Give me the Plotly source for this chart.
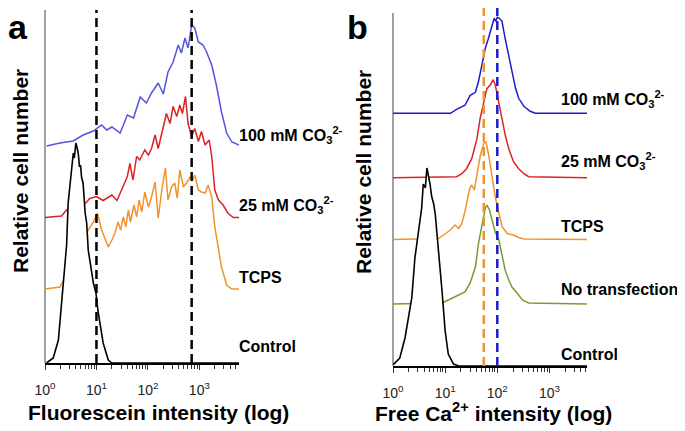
import numpy as np
import plotly.graph_objects as go

W, H = 685, 431
PAGE = 8  # the browser page adds an 8 px margin before the figure

# ---------------- Panel a : Fluorescein intensity (log10 of intensity) ----------------
a_blue_logx = [0.03, 0.29, 0.55, 0.74, 0.94, 1.10, 1.20, 1.30, 1.46, 1.60, 1.72, 1.85, 1.97, 2.07, 2.20,
               2.30, 2.39, 2.49, 2.59, 2.65, 2.72, 2.78, 2.85, 2.91, 2.98, 3.07, 3.14, 3.24, 3.33, 3.43,
               3.53, 3.63, 3.77]
a_blue_cnt = [0, 3, 5, 11, 15, 21, 16, 19, 13, 31, 28, 49, 43, 53, 63,
              52, 74, 84, 101, 93, 108, 98, 121, 118, 104, 101, 94, 81, 61, 34,
              13, 4, 1]

a_red_logx = [0.00, 0.32, 0.42, 0.78, 0.87, 1.00, 1.13, 1.30, 1.40, 1.52, 1.60, 1.65, 1.71, 1.78, 1.84,
              1.94, 2.01, 2.07, 2.14, 2.20, 2.30, 2.36, 2.43, 2.49, 2.56, 2.62, 2.67, 2.73, 2.78, 2.85,
              2.91, 2.98, 3.04, 3.11, 3.19, 3.24, 3.30, 3.37, 3.46, 3.56, 3.66, 3.77]
a_red_cnt = [0, 1.5, 7.5, 14, 19, 21, 17, 22.5, 17, 31, 41, 54, 37.5, 61, 57.5,
             67.5, 62.5, 69, 82.5, 69, 91, 104, 94, 111, 101, 112.5, 104, 121, 94, 81,
             89, 76, 86, 72.5, 77.5, 61, 27.5, 17.5, 12.5, 4, 0, 0]

a_orange_logx = [0.00, 0.29, 0.58, 0.84, 0.94, 1.02, 1.10, 1.23, 1.30, 1.36, 1.42, 1.47, 1.52, 1.57, 1.62,
                 1.66, 1.73, 1.78, 1.83, 1.88, 1.94, 2.01, 2.07, 2.14, 2.20, 2.27, 2.34, 2.39, 2.46, 2.52,
                 2.57, 2.62, 2.69, 2.75, 2.82, 2.87, 2.91, 2.98, 3.04, 3.11, 3.17, 3.24, 3.30, 3.37, 3.43,
                 3.53, 3.63, 3.77]
a_orange_cnt = [0, 2, 30, 59, 67, 76, 59, 42, 49, 56, 67, 59, 72, 62, 79,
                67, 84, 72, 89, 77, 97, 82, 92, 107, 71, 99, 121, 89, 102, 106,
                91, 119, 102, 106, 112, 109, 114, 99, 97, 96, 104, 92, 62, 39, 22,
                4, 0, 0]

a_black_logx = [0.03, 0.16, 0.26, 0.32, 0.39, 0.42, 0.45, 0.49, 0.52, 0.55, 0.57, 0.60, 0.63, 0.65, 0.67,
                0.69, 0.71, 0.74, 0.78, 0.81, 0.84, 0.87, 0.94, 0.99, 1.03, 1.13, 1.23, 1.30, 3.77]
a_black_cnt = [0, 5, 23, 60, 98, 118, 160, 180, 196, 210, 205, 220, 214, 208, 196,
               198, 186, 180, 150, 140, 113, 103, 80, 70, 52, 20, 3, 0, 0]

a_labels = ["100 mM CO<sub>3</sub><sup>2-</sup>", "25 mM CO<sub>3</sub><sup>2-</sup>", "TCPS", "Control"]
a_offsets = [217, 145.5, 74, 0]
a_gates = [10, 708]

# ---------------- Panel b : Free Ca2+ intensity ----------------
b_blue_logx = [0.00, 1.10, 1.22, 1.38, 1.48, 1.58, 1.64, 1.71, 1.77, 1.83, 1.90, 1.94, 1.97, 2.00, 2.04,
               2.09, 2.15, 2.22, 2.28, 2.35, 2.41, 2.51, 2.63, 2.73, 3.72]
b_blue_cnt = [0, 0, 4, 8, 18, 21, 32, 48, 65, 75, 87, 95, 92, 96, 95,
              92, 75, 58, 42, 25, 15, 7, 2, 0, 0]

b_red_logx = [0.00, 1.22, 1.32, 1.41, 1.51, 1.61, 1.67, 1.74, 1.80, 1.87, 1.92, 1.96, 2.03, 2.09, 2.15,
              2.22, 2.31, 2.41, 2.51, 2.60, 3.72]
b_red_cnt = [0, 1, 4, 9, 19, 39, 59, 76, 89, 93, 98, 93, 76, 59, 43,
             29, 16, 9, 4, 1, 0]

b_orange_logx = [0.00, 0.87, 0.97, 1.10, 1.19, 1.26, 1.32, 1.38, 1.47, 1.51, 1.56, 1.61, 1.67, 1.74, 1.78,
                 1.83, 1.90, 1.96, 2.03, 2.09, 2.19, 2.31, 2.41, 2.51, 3.72]
b_orange_cnt = [0, 1, 4.5, 9.5, 14.5, 11, 16, 28, 51, 54.5, 49.5, 66, 83, 96, 98,
                86, 63, 43, 26, 13, 6, 4.5, 2, 0.5, 0]

b_green_logx = [0.00, 0.94, 1.06, 1.22, 1.38, 1.48, 1.58, 1.64, 1.71, 1.77, 1.80, 1.85, 1.90, 1.96, 2.03,
                2.09, 2.15, 2.22, 2.28, 2.38, 2.48, 2.60, 3.72]
b_green_cnt = [0, 1, 4, 8, 12, 21, 37, 61, 81, 96, 99, 94, 84, 72, 64,
               47, 34, 24, 17, 11, 4, 1, 0]

b_black_logx = [0.00, 0.13, 0.23, 0.29, 0.36, 0.42, 0.49, 0.55, 0.58, 0.62, 0.65, 0.68, 0.71, 0.74, 0.78,
                0.81, 0.84, 0.87, 0.94, 1.00, 1.06, 1.16, 1.26, 3.72]
b_black_cnt = [1, 8, 28, 48, 68, 108, 138, 158, 182, 178, 198, 190, 182, 170, 162,
               152, 135, 115, 75, 35, 12, 2, 0, 0]

b_labels = ["100 mM CO<sub>3</sub><sup>2-</sup>", "25 mM CO<sub>3</sub><sup>2-</sup>", "TCPS",
            "No transfection", "Control"]
b_offsets = [252.7, 188.3, 126.5, 62, 0]
b_gates = [55, 100]

tick_vals = [1, 10, 100, 1000]
tick_text = ["10<sup>0</sup>", "10<sup>1</sup>", "10<sup>2</sup>", "10<sup>3</sup>"]

FONT = "Liberation Sans, Arial, sans-serif"
BLUE_A, BLUE_B = "#5454e0", "#1c1cd0"
RED, ORANGE, GREEN, BLACK = "#dc2323", "#f1932c", "#7c9a30", "#000000"


def px(p):          # page x pixel -> paper
    return (p - PAGE) / W


def py(p):          # page y pixel -> paper
    return 1 - (p - PAGE) / H


fig = go.Figure()


def curve(logx, cnt, off, color, xa, ya, width=1.5):
    """Overlay histogram: white (opaque) body so front curves hide back ones, then its outline."""
    xs = np.power(10.0, np.array(logx))
    ys = np.array(cnt, dtype=float) + off
    fig.add_trace(go.Scatter(
        x=np.concatenate([xs, [xs[-1], xs[0]]]), y=np.concatenate([ys, [off, off]]),
        mode="lines", fill="toself", fillcolor="white", line=dict(width=0, color="white"),
        xaxis=xa, yaxis=ya, hoverinfo="skip", showlegend=False))
    fig.add_trace(go.Scatter(
        x=xs, y=ys, mode="lines", line=dict(color=color, width=width),
        xaxis=xa, yaxis=ya, hoverinfo="skip", showlegend=False))


def gate(xv, top, color, xa, ya):
    fig.add_trace(go.Scatter(
        x=[xv, xv], y=[0, top], mode="lines",
        line=dict(color=color, width=2.5, dash="9px,5px"),
        xaxis=xa, yaxis=ya, hoverinfo="skip", showlegend=False))


# panel a (back to front)
A_BOT, A_TOPPX = 363, 10
A_TOP = A_BOT - A_TOPPX
curve(a_blue_logx, a_blue_cnt, a_offsets[0], BLUE_A, "x", "y")
curve(a_red_logx, a_red_cnt, a_offsets[1], RED, "x", "y")
curve(a_orange_logx, a_orange_cnt, a_offsets[2], ORANGE, "x", "y")
curve(a_black_logx, a_black_cnt, a_offsets[3], BLACK, "x", "y", 1.6)
gate(a_gates[0], A_TOP, BLACK, "x", "y")
gate(a_gates[1], A_TOP, BLACK, "x", "y")

# panel b (back to front)
B_BOT, B_TOPPX = 366, PAGE
B_TOP = B_BOT - B_TOPPX
curve(b_blue_logx, b_blue_cnt, b_offsets[0], BLUE_B, "x2", "y2")
curve(b_red_logx, b_red_cnt, b_offsets[1], RED, "x2", "y2")
curve(b_orange_logx, b_orange_cnt, b_offsets[2], ORANGE, "x2", "y2")
curve(b_green_logx, b_green_cnt, b_offsets[3], GREEN, "x2", "y2")
curve(b_black_logx, b_black_cnt, b_offsets[4], BLACK, "x2", "y2", 1.6)
gate(b_gates[0], B_TOP, ORANGE, "x2", "y2")
gate(b_gates[1], B_TOP, BLUE_B, "x2", "y2")

minor_vals = [m * 10 ** e for e in range(4) for m in range(2, 10)]


def xaxis_cfg(p0, p1, rng, anchor):
    return dict(type="log", domain=[px(p0), px(p1)], range=rng, anchor=anchor,
                automargin=False,
                showline=True, linecolor="black", linewidth=2, mirror=False,
                showgrid=False, zeroline=False,
                ticks="outside", ticklen=5, tickwidth=1.2, tickcolor="#333",
                tickmode="array", tickvals=tick_vals, ticktext=tick_text,
                ticklabelstandoff=8,
                tickfont=dict(family=FONT, size=14, color="#222"),
                minor=dict(ticks="outside", ticklen=3.5, tickwidth=1, tickcolor="#333",
                           tickmode="array", tickvals=minor_vals, showgrid=False))


def yaxis_cfg(p_bottom, p_top, rng, anchor):
    return dict(domain=[py(p_bottom), min(1.0, py(p_top))], range=rng, anchor=anchor,
                automargin=False,
                visible=False, showgrid=False, zeroline=False, fixedrange=True)


fig.update_layout(
    width=W, height=H, margin=dict(l=0, r=0, t=0, b=0, pad=0, autoexpand=False),
    paper_bgcolor="white", plot_bgcolor="white",
    font=dict(family=FONT, color="black"),
    xaxis=xaxis_cfg(45, 239, [0, 3.77], "y"),
    yaxis=yaxis_cfg(A_BOT, A_TOPPX, [0, A_TOP], "x"),
    xaxis2=xaxis_cfg(393, 587, [0, 3.72], "y2"),
    yaxis2=yaxis_cfg(B_BOT, B_TOPPX, [0, B_TOP], "x2"),
)

# y axis lines (grey)
fig.add_shape(type="line", xref="x domain", yref="y domain", x0=0, x1=0, y0=0, y1=1,
              line=dict(color="#8a8a8a", width=1.6), layer="below")
fig.add_shape(type="line", xref="x2 domain", yref="y2 domain", x0=0, x1=0, y0=0,
              y1=(B_BOT - 13) / B_TOP, line=dict(color="#8a8a8a", width=1.6), layer="below")

LAB = dict(family=FONT, size=16, color="black")
a_label_y = [135, 205, 277, 346]
b_label_y = [98.5, 161, 226, 289, 354]
ann = []
for lab, yy in zip(a_labels, a_label_y):
    ann.append(dict(text="<b>%s</b>" % lab, xref="paper", yref="paper", x=px(237), y=py(yy),
                    xanchor="left", yanchor="middle", showarrow=False, font=LAB))
for lab, yy in zip(b_labels, b_label_y):
    ann.append(dict(text="<b>%s</b>" % lab, xref="paper", yref="paper", x=px(559), y=py(yy),
                    xanchor="left", yanchor="middle", showarrow=False, font=LAB))

TIT = dict(family=FONT, size=21, color="black")
ann += [
    dict(text="<b>Fluorescein intensity (log)</b>", xref="paper", yref="paper",
         x=px(158), y=py(412), xanchor="center", yanchor="middle", showarrow=False, font=TIT),
    dict(text="<b>Free Ca<sup>2+</sup> intensity (log)</b>", xref="paper", yref="paper",
         x=px(494), y=py(412), xanchor="center", yanchor="middle", showarrow=False, font=TIT),
    dict(text="<b>Relative cell number</b>", xref="paper", yref="paper", textangle=-90,
         x=px(20), y=py(171), xanchor="center", yanchor="middle", showarrow=False, font=TIT),
    dict(text="<b>Relative cell number</b>", xref="paper", yref="paper", textangle=-90,
         x=px(363), y=py(172), xanchor="center", yanchor="middle", showarrow=False, font=TIT),
    dict(text="<b>a</b>", xref="paper", yref="paper", x=px(18), y=py(27),
         xanchor="center", yanchor="middle", showarrow=False, font=dict(family=FONT, size=34)),
    dict(text="<b>b</b>", xref="paper", yref="paper", x=px(357), y=py(27),
         xanchor="center", yanchor="middle", showarrow=False, font=dict(family=FONT, size=34)),
]
fig.update_layout(annotations=ann)

fig.write_html("out.html")
